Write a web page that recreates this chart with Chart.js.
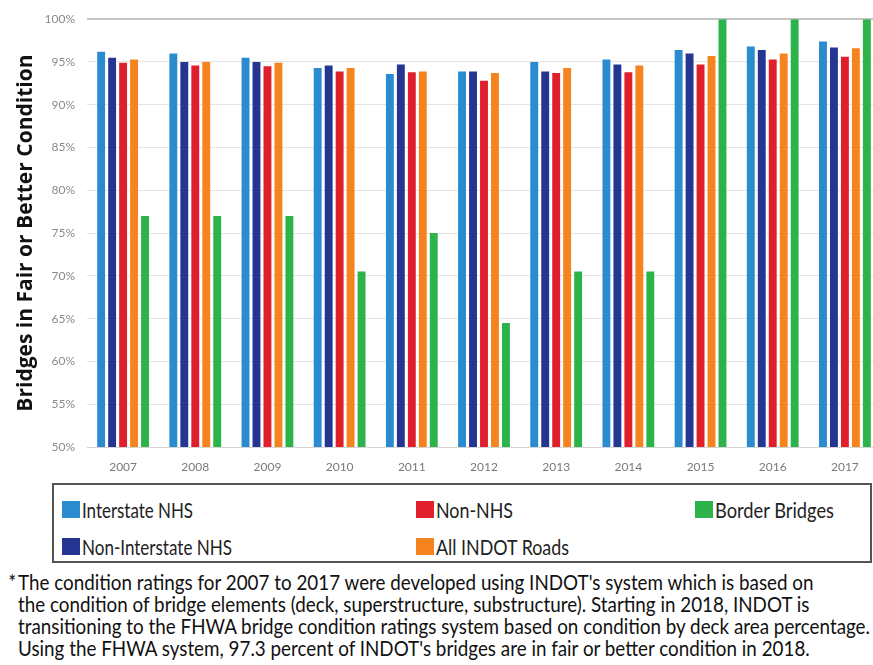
<!DOCTYPE html>
<html>
<head>
<meta charset="utf-8">
<script src="https://cdn.jsdelivr.net/npm/chart.js@4"></script>
<style>
    html, body { margin: 0; padding: 0; background: #fff; overflow: hidden; }
    body { width: 873px; height: 665px; position: relative; }
    #chartBox { position: absolute; left: 0; top: 0; width: 885px; height: 480px; }
    #legendBox {
        position: absolute; left: 52px; top: 483px; width: 816px; height: 76px;
        border: 2px solid #555;
    }
    .legend-item {
        position: absolute; display: flex; align-items: center;
        font-family: Lato, "Open Sans", sans-serif;
        font-size: 22px; color: #222; white-space: nowrap;
    }
    .legend-swatch { width: 18px; height: 17px; margin-right: 2px; flex: none; }
    .legend-text { display: inline-block; transform-origin: left center; }
    #footnote {
        position: absolute; left: 18px; top: 571px;
        font-family: Lato, "Open Sans", sans-serif;
        font-size: 21px; line-height: 22px; color: #111; white-space: nowrap;
        transform-origin: left top;
    }
    #footnote span.line { display: inline-block; }
    #footnote .star { position: absolute; left: -11px; top: 0; }
</style>
</head>
<body>
<div id="chartBox"><canvas id="bridgeChart"></canvas></div>
<div id="legendBox"></div>
<div id="footnote"></div>

<script>
// Data (percent of bridges in fair or better condition)
const years = ['2007', '2008', '2009', '2010', '2011', '2012', '2013', '2014', '2015', '2016', '2017'];
const interstateNHS    = [96.2, 96.0, 95.5, 94.3, 93.6, 93.9, 95.0, 95.3, 96.4, 96.8, 97.4];
const nonInterstateNHS = [95.5, 95.0, 95.0, 94.6, 94.7, 93.9, 93.9, 94.7, 96.0, 96.4, 96.7];
const nonNHS           = [94.9, 94.6, 94.5, 93.9, 93.8, 92.8, 93.7, 93.8, 94.7, 95.3, 95.6];
const allINDOTRoads    = [95.3, 95.0, 94.9, 94.3, 93.9, 93.7, 94.3, 94.6, 95.7, 96.0, 96.6];
const borderBridges    = [77.0, 77.0, 77.0, 70.5, 75.0, 64.5, 70.5, 70.5, 100, 100, 100];
const yTicks = [50, 55, 60, 65, 70, 75, 80, 85, 90, 95, 100];

const footnoteLines = [
    "The condition ratings for 2007 to 2017 were developed using INDOT's system which is based on",
    "the condition of bridge elements (deck, superstructure, substructure). Starting in 2018, INDOT is",
    "transitioning to the FHWA bridge condition ratings system based on condition by deck area percentage.",
    "Using the FHWA system, 97.3 percent of INDOT's bridges are in fair or better condition in 2018."
];

const tickFont = 'Lato, "Open Sans", sans-serif';

const ctx = document.getElementById('bridgeChart').getContext('2d');
const bridgeChart = new Chart(ctx, {
    type: 'bar',
    data: {
        labels: years,
        datasets: [
            { label: 'Interstate NHS', data: interstateNHS, backgroundColor: '#2a8bcf' },
            { label: 'Non-Interstate NHS', data: nonInterstateNHS, backgroundColor: '#243592' },
            { label: 'Non-NHS', data: nonNHS, backgroundColor: '#e01f2d' },
            { label: 'All INDOT Roads', data: allINDOTRoads, backgroundColor: '#f5841f' },
            { label: 'Border Bridges', data: borderBridges, backgroundColor: '#2cb34a' }
        ]
    },
    options: {
        responsive: true,
        maintainAspectRatio: false,
        animation: false,
        categoryPercentage: 0.76,
        barPercentage: 0.72,
        layout: {
            padding: { top: 18, right: 4, left: 0, bottom: 0 }
        },
        plugins: {
            legend: { display: false },
            tooltip: { enabled: false }
        },
        scales: {
            x: {
                grid: { display: false },
                border: { display: true, color: '#d4d4d4', width: 1 },
                ticks: {
                    color: '#7a7a7a',
                    padding: 5,
                    font: { family: tickFont, size: 12 }
                },
                afterFit: function(scale) {
                    scale.height = 33;
                }
            },
            y: {
                min: 50,
                max: 100,
                afterBuildTicks: function(scale) {
                    scale.ticks = yTicks.map(v => ({ value: v }));
                },
                grid: {
                    drawTicks: false,
                    color: function(c) {
                        return c.tick && c.tick.value === 100 ? '#c4c4c4' : '#e4e4e4';
                    },
                    lineWidth: function(c) {
                        return c.tick && c.tick.value === 100 ? 2 : 1;
                    }
                },
                border: { display: false },
                ticks: {
                    color: '#8a8a8a',
                    padding: 12,
                    font: { family: tickFont, size: 12 },
                    callback: function(value) {
                        return value + '%';
                    }
                },
                title: {
                    display: true,
                    text: 'Bridges in Fair or Better Condition',
                    color: '#111',
                    padding: { top: 13, bottom: 0 },
                    font: { family: '"Open Sans", sans-serif', size: 21, weight: 'bold' }
                },
                afterFit: function(scale) {
                    scale.width = 87;
                }
            }
        }
    }
});

// squeeze an element horizontally so it matches the narrow type of the original
function fitWidth(el, target) {
    const w = el.getBoundingClientRect().width;
    el.style.transform = 'scaleX(' + (target / w) + ')';
}

// Legend laid out in three columns like the original
const legendSpots = [
    { left: 8, top: 11, width: 111 },    // Interstate NHS
    { left: 8, top: 48, width: 150 },    // Non-Interstate NHS
    { left: 362, top: 11, width: 77 },   // Non-NHS
    { left: 362, top: 48, width: 133 },  // All INDOT Roads
    { left: 641, top: 11, width: 119 }   // Border Bridges
];
const legendBox = document.getElementById('legendBox');
bridgeChart.data.datasets.forEach((ds, i) => {
    const item = document.createElement('div');
    item.className = 'legend-item';
    item.style.left = legendSpots[i].left + 'px';
    item.style.top = legendSpots[i].top + 'px';
    const swatch = document.createElement('span');
    swatch.className = 'legend-swatch';
    swatch.style.background = ds.backgroundColor;
    const text = document.createElement('span');
    text.className = 'legend-text';
    text.textContent = ds.label;
    item.appendChild(swatch);
    item.appendChild(text);
    legendBox.appendChild(item);
    fitWidth(text, legendSpots[i].width);
});

// Footnote
const footnote = document.getElementById('footnote');
const star = document.createElement('span');
star.className = 'star';
star.textContent = '*';
footnote.appendChild(star);
const lineEls = footnoteLines.map(line => {
    const div = document.createElement('div');
    const span = document.createElement('span');
    span.className = 'line';
    span.textContent = line;
    div.appendChild(span);
    footnote.appendChild(div);
    return span;
});
// the third line runs right up to the edge of the picture
const longest = lineEls[2].getBoundingClientRect().width;
footnote.style.transform = 'scaleX(' + (852 / longest) + ')';
</script>
</body>
</html>
